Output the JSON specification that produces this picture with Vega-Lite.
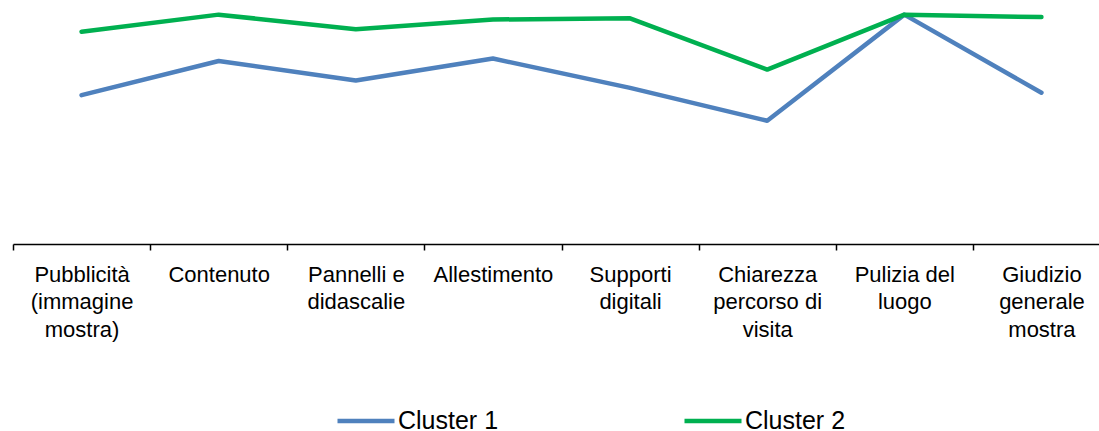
{
  "$schema": "https://vega.github.io/schema/vega-lite/v6.json",
  "width": 1097,
  "height": 244,
  "padding": {"left": 13, "top": 0, "right": 0, "bottom": 187},
  "autosize": {"type": "none"},
  "background": "white",
  "config": {
    "view": {"stroke": null},
    "font": "Liberation Sans"
  },
  "data": {
    "values": [
      {"categoria": "Pubblicità (immagine mostra)", "cluster": "Cluster 1", "valore": 4.22},
      {"categoria": "Contenuto", "cluster": "Cluster 1", "valore": 4.50},
      {"categoria": "Pannelli e didascalie", "cluster": "Cluster 1", "valore": 4.34},
      {"categoria": "Allestimento", "cluster": "Cluster 1", "valore": 4.52},
      {"categoria": "Supporti digitali", "cluster": "Cluster 1", "valore": 4.28},
      {"categoria": "Chiarezza percorso di visita", "cluster": "Cluster 1", "valore": 4.01},
      {"categoria": "Pulizia del luogo", "cluster": "Cluster 1", "valore": 4.88},
      {"categoria": "Giudizio generale mostra", "cluster": "Cluster 1", "valore": 4.24},
      {"categoria": "Pubblicità (immagine mostra)", "cluster": "Cluster 2", "valore": 4.74},
      {"categoria": "Contenuto", "cluster": "Cluster 2", "valore": 4.88},
      {"categoria": "Pannelli e didascalie", "cluster": "Cluster 2", "valore": 4.76},
      {"categoria": "Allestimento", "cluster": "Cluster 2", "valore": 4.84},
      {"categoria": "Supporti digitali", "cluster": "Cluster 2", "valore": 4.85},
      {"categoria": "Chiarezza percorso di visita", "cluster": "Cluster 2", "valore": 4.43},
      {"categoria": "Pulizia del luogo", "cluster": "Cluster 2", "valore": 4.88},
      {"categoria": "Giudizio generale mostra", "cluster": "Cluster 2", "valore": 4.86}
    ]
  },
  "mark": {"type": "line", "strokeWidth": 4.5, "strokeCap": "round", "strokeJoin": "round"},
  "encoding": {
    "x": {
      "field": "categoria",
      "type": "nominal",
      "sort": null,
      "bandPosition": 0.5,
      "scale": {"type": "band", "paddingInner": 0, "paddingOuter": 0},
      "axis": {
        "title": null,
        "labelAngle": 0,
        "tickBand": "extent",
        "tickSize": 6,
        "tickColor": "#000000",
        "tickWidth": 1.5,
        "domainColor": "#000000",
        "domainWidth": 1.5,
        "labelColor": "#000000",
        "labelFontSize": 22,
        "labelLineHeight": 27.5,
        "labelPadding": 14,
        "labelAlign": "center",
        "labelBaseline": "top",
        "labelExpr": "{'Pubblicità (immagine mostra)': ['Pubblicità', '(immagine', 'mostra)'], 'Contenuto': ['Contenuto'], 'Pannelli e didascalie': ['Pannelli e', 'didascalie'], 'Allestimento': ['Allestimento'], 'Supporti digitali': ['Supporti', 'digitali'], 'Chiarezza percorso di visita': ['Chiarezza', 'percorso di', 'visita'], 'Pulizia del luogo': ['Pulizia del', 'luogo'], 'Giudizio generale mostra': ['Giudizio', 'generale', 'mostra']}[datum.value]"
      }
    },
    "y": {
      "field": "valore",
      "type": "quantitative",
      "scale": {"domain": [3, 5], "nice": false, "zero": false},
      "axis": null
    },
    "color": {
      "field": "cluster",
      "type": "nominal",
      "scale": {"domain": ["Cluster 1", "Cluster 2"], "range": ["#4F81BD", "#00B050"]},
      "legend": {
        "title": null,
        "orient": "none",
        "direction": "horizontal",
        "legendX": 322,
        "legendY": 390,
        "padding": 0,
        "symbolType": "stroke",
        "symbolSize": 3249,
        "symbolStrokeWidth": 4.5,
        "labelFontSize": 25,
        "labelColor": "#000000",
        "labelOffset": 1,
        "columnPadding": 176
      }
    }
  }
}
